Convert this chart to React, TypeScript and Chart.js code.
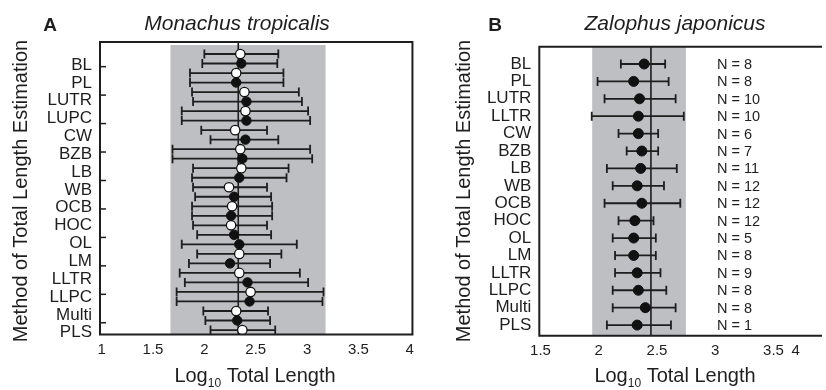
import React, { useEffect, useRef } from "react";
import { Chart, registerables } from "chart.js";

Chart.register(...registerables);

const FONT = "'Liberation Sans', Arial, Helvetica, sans-serif";
const INK = "#1e1e1e";
const BAND = "#bebfc3";

// ---------------- shared text ----------------
const yAxisTitle = "Method of Total Length Estimation";
const xTitleMain = "Log";
const xTitleSub = "10";
const xTitleRest = " Total Length";

// ---------------- Panel A: Monachus tropicalis ----------------
const aLetter = "A";
const aTitle = "Monachus tropicalis";
const aCategories = ["BL", "PL", "LUTR", "LUPC", "CW", "BZB", "LB", "WB", "OCB", "HOC", "OL", "LM", "LLTR", "LLPC", "Multi", "PLS"];
// 30 estimate rows, top to bottom: open or filled marker
const aRowKind = [
  "open", "filled", "open", "filled", "open", "filled", "open", "filled", "open", "filled",
  "open", "filled", "open", "filled", "open", "filled", "open", "filled", "open", "filled",
  "filled", "open", "filled", "open", "filled", "open", "filled", "open", "filled", "open",
];
const aMean = [2.35, 2.36, 2.31, 2.31, 2.39, 2.41, 2.40, 2.41, 2.30, 2.40, 2.35, 2.37, 2.36, 2.34, 2.24, 2.29, 2.27, 2.26, 2.26, 2.29, 2.34, 2.34, 2.25, 2.34, 2.42, 2.45, 2.44, 2.31, 2.32, 2.37];
const aLow = [2.00, 1.98, 1.86, 1.86, 1.88, 1.89, 1.78, 1.78, 1.97, 2.06, 1.69, 1.69, 1.89, 1.88, 1.89, 1.91, 1.88, 1.88, 1.89, 1.93, 1.78, 1.93, 1.85, 1.76, 1.81, 1.73, 1.73, 1.99, 2.01, 2.06];
const aHigh = [2.72, 2.71, 2.77, 2.77, 2.92, 2.95, 3.01, 3.03, 2.61, 2.72, 3.03, 3.05, 2.82, 2.80, 2.61, 2.65, 2.66, 2.66, 2.61, 2.65, 2.90, 2.75, 2.64, 2.93, 3.01, 3.16, 3.15, 2.62, 2.64, 2.69];
const aXTicks = [1, 1.5, 2, 2.5, 3, 3.5, 4];
const aXTickLabels = ["1", "1.5", "2", "2.5", "3", "3.5", "4"];
const aBand = [1.67, 3.18];
const aReference = 2.33;

// ---------------- Panel B: Zalophus japonicus ----------------
const bLetter = "B";
const bTitle = "Zalophus japonicus";
const bCategories = ["BL", "PL", "LUTR", "LLTR", "CW", "BZB", "LB", "WB", "OCB", "HOC", "OL", "LM", "LLTR", "LLPC", "Multi", "PLS"];
const bMean = [2.39, 2.30, 2.35, 2.34, 2.34, 2.37, 2.36, 2.33, 2.37, 2.31, 2.30, 2.30, 2.33, 2.34, 2.40, 2.33];
const bLow = [2.19, 1.99, 2.05, 1.94, 2.17, 2.24, 2.07, 2.12, 2.05, 2.17, 2.12, 2.14, 2.14, 2.12, 2.12, 2.07];
const bHigh = [2.57, 2.60, 2.66, 2.73, 2.51, 2.51, 2.67, 2.56, 2.70, 2.47, 2.49, 2.49, 2.53, 2.58, 2.66, 2.62];
const bN = [8, 8, 10, 10, 6, 7, 11, 12, 12, 12, 5, 8, 9, 8, 8, 1];
const bXTicks = [1.5, 2, 2.5, 3, 3.5, 3.69];
const bXTickLabels = ["1.5", "2", "2.5", "3", "3.5", "4"];
const bBand = [1.944, 2.748];
const bReference = 2.448;
const bNLabelX = 3.015;

type Bar = { row: number; mean: number; lo: number; hi: number };

type Spec = {
  letter: string;
  letterX: number;
  title: string;
  titleX: number;
  yTitleX: number;
  xTitleX: number;
  band: number[];
  bandInset: number;
  ref: number;
  bars: Bar[];
  capHalf: number;
  fullBox: boolean;
  innerTicks: number[];
  nLabels: { row: number; text: string }[];
  nX: number;
};

function makePlugin(spec: Spec) {
  return {
    id: "panelDecor",
    beforeDatasetsDraw(chart: any) {
      const { ctx, chartArea: ca } = chart;
      const x = chart.scales.x;
      const y = chart.scales.y;
      ctx.save();
      const b0 = x.getPixelForValue(spec.band[0]);
      const b1 = x.getPixelForValue(spec.band[1]);
      ctx.fillStyle = BAND;
      ctx.fillRect(b0, ca.top + spec.bandInset, b1 - b0, ca.bottom - ca.top - spec.bandInset);
      ctx.strokeStyle = INK;
      ctx.lineWidth = 1.6;
      const rx = x.getPixelForValue(spec.ref);
      ctx.beginPath();
      ctx.moveTo(rx, ca.top);
      ctx.lineTo(rx, ca.bottom);
      ctx.stroke();
      ctx.lineWidth = 1.8;
      spec.bars.forEach((b) => {
        const py = y.getPixelForValue(b.row);
        const p0 = x.getPixelForValue(b.lo);
        const p1 = x.getPixelForValue(b.hi);
        ctx.beginPath();
        ctx.moveTo(p0, py);
        ctx.lineTo(p1, py);
        ctx.moveTo(p0, py - spec.capHalf);
        ctx.lineTo(p0, py + spec.capHalf);
        ctx.moveTo(p1, py - spec.capHalf);
        ctx.lineTo(p1, py + spec.capHalf);
        ctx.stroke();
      });
      ctx.restore();
    },
    afterDraw(chart: any) {
      const { ctx, chartArea: ca } = chart;
      const x = chart.scales.x;
      const y = chart.scales.y;
      ctx.save();
      ctx.strokeStyle = INK;
      ctx.lineWidth = 2;
      ctx.beginPath();
      if (spec.fullBox) {
        ctx.rect(ca.left, ca.top, ca.right - ca.left, ca.bottom - ca.top);
      } else {
        ctx.moveTo(ca.right + 2, ca.top);
        ctx.lineTo(ca.left, ca.top);
        ctx.lineTo(ca.left, ca.bottom);
        ctx.lineTo(ca.right + 2, ca.bottom);
      }
      ctx.stroke();
      // inward tick marks on the y axis
      ctx.lineWidth = 1.5;
      spec.innerTicks.forEach((v) => {
        const py = y.getPixelForValue(v);
        ctx.beginPath();
        ctx.moveTo(ca.left, py);
        ctx.lineTo(ca.left + 6, py);
        ctx.stroke();
      });
      ctx.fillStyle = INK;
      // N labels
      ctx.font = `14.5px ${FONT}`;
      ctx.textAlign = "left";
      ctx.textBaseline = "middle";
      spec.nLabels.forEach((n) => {
        ctx.fillText(n.text, x.getPixelForValue(spec.nX), y.getPixelForValue(n.row) + 1);
      });
      // panel letter and title
      ctx.textBaseline = "alphabetic";
      ctx.textAlign = "center";
      ctx.font = `bold 19px ${FONT}`;
      ctx.fillText(spec.letter, spec.letterX, 31);
      ctx.font = `italic 21px ${FONT}`;
      ctx.fillText(spec.title, spec.titleX, 30);
      // y axis title
      ctx.save();
      ctx.translate(spec.yTitleX, 191);
      ctx.rotate(-Math.PI / 2);
      ctx.font = `20px ${FONT}`;
      ctx.textBaseline = "middle";
      ctx.fillText(yAxisTitle, 0, 0);
      ctx.restore();
      // x axis title with subscript
      const big = `20px ${FONT}`;
      const small = `12px ${FONT}`;
      ctx.font = big;
      const w1 = ctx.measureText(xTitleMain).width;
      const w3 = ctx.measureText(xTitleRest).width;
      ctx.font = small;
      const w2 = ctx.measureText(xTitleSub).width;
      let sx = spec.xTitleX - (w1 + w2 + w3) / 2;
      ctx.textAlign = "left";
      ctx.font = big;
      ctx.fillText(xTitleMain, sx, 382);
      sx += w1;
      ctx.font = small;
      ctx.fillText(xTitleSub, sx, 387);
      sx += w2;
      ctx.font = big;
      ctx.fillText(xTitleRest, sx, 382);
      ctx.restore();
    },
  };
}

function makeConfig(opts: {
  xMin: number; xMax: number; xTicks: number[]; xLabels: string[];
  yMin: number; yMax: number; catPos: (i: number) => number; categories: string[];
  yWidth: number; xHeight: number; padTop: number; padRight: number;
  datasets: any[]; plugin: any;
}) {
  return {
    type: "scatter",
    data: { datasets: opts.datasets },
    options: {
      animation: false,
      responsive: false,
      maintainAspectRatio: false,
      layout: { padding: { top: opts.padTop, right: opts.padRight, left: 0, bottom: 0 } },
      plugins: { legend: { display: false }, tooltip: { enabled: false }, title: { display: false } },
      scales: {
        x: {
          type: "linear",
          position: "bottom",
          min: opts.xMin,
          max: opts.xMax,
          afterBuildTicks: (s: any) => {
            s.ticks = opts.xTicks.map((v) => ({ value: v }));
          },
          afterFit: (s: any) => {
            s.height = opts.xHeight;
          },
          ticks: {
            autoSkip: false,
            maxRotation: 0,
            padding: 6,
            color: INK,
            font: { family: FONT, size: 15 },
            callback: (_v: any, i: number) => opts.xLabels[i],
          },
          grid: { display: false, drawTicks: false },
          border: { display: false },
        },
        y: {
          type: "linear",
          reverse: true,
          min: opts.yMin,
          max: opts.yMax,
          afterBuildTicks: (s: any) => {
            s.ticks = opts.categories.map((_c, i) => ({ value: opts.catPos(i) }));
          },
          afterFit: (s: any) => {
            s.width = opts.yWidth;
          },
          ticks: {
            autoSkip: false,
            padding: 8,
            color: INK,
            font: { family: FONT, size: 17 },
            callback: (_v: any, i: number) => opts.categories[i],
          },
          grid: { display: false, drawTicks: false },
          border: { display: false },
        },
      },
    },
    plugins: [opts.plugin],
  };
}

function configA() {
  const rows = aMean.map((m, i) => ({ row: i, mean: m, lo: aLow[i], hi: aHigh[i] }));
  const openPts = rows.filter((r) => aRowKind[r.row] === "open").map((r) => ({ x: r.mean, y: r.row }));
  const filledPts = rows.filter((r) => aRowKind[r.row] === "filled").map((r) => ({ x: r.mean, y: r.row }));
  const plugin = makePlugin({
    letter: aLetter, letterX: 50, title: aTitle, titleX: 237, yTitleX: 21, xTitleX: 255,
    band: aBand, bandInset: 3, ref: aReference, bars: rows, capHalf: 4.5, fullBox: true,
    innerTicks: Array.from({ length: 10 }, (_, k) => 1.33 + 2.99 * k),
    nLabels: [], nX: 0,
  });
  return makeConfig({
    xMin: 0.984, xMax: 4.026, xTicks: aXTicks, xLabels: aXTickLabels,
    yMin: -1.26, yMax: 29.47, catPos: (i) => 1.16 + 1.875 * i, categories: aCategories,
    yWidth: 100, xHeight: 55.5, padTop: 42, padRight: 5,
    datasets: [
      { data: filledPts, pointRadius: 4.7, pointBackgroundColor: "#111", pointBorderColor: "#111", pointBorderWidth: 1 },
      { data: openPts, pointRadius: 4.7, pointBackgroundColor: "#fff", pointBorderColor: "#111", pointBorderWidth: 1.3 },
    ],
    plugin,
  });
}

function configB() {
  const rows = bMean.map((m, i) => ({ row: i, mean: m, lo: bLow[i], hi: bHigh[i] }));
  const pts = rows.map((r) => ({ x: r.mean, y: r.row }));
  const plugin = makePlugin({
    letter: bLetter, letterX: 75, title: bTitle, titleX: 255, yTitleX: 44, xTitleX: 255,
    band: bBand, bandInset: 0, ref: bReference, bars: rows, capHalf: 4.5, fullBox: false,
    innerTicks: [],
    nLabels: bN.map((n, i) => ({ row: i, text: `N = ${n}` })), nX: bNLabelX,
  });
  return makeConfig({
    xMin: 1.49, xMax: 3.899, xTicks: bXTicks, xLabels: bXTickLabels,
    yMin: -0.994, yMax: 15.61, catPos: (i) => i, categories: bCategories,
    yWidth: 119.3, xHeight: 54.3, padTop: 46.7, padRight: 0,
    datasets: [
      { data: pts, pointRadius: 5, pointBackgroundColor: "#111", pointBorderColor: "#111", pointBorderWidth: 1 },
    ],
    plugin,
  });
}

function Panel({ make, left, width }: { make: () => any; left: number; width: number }) {
  const ref = useRef<HTMLCanvasElement | null>(null);
  useEffect(() => {
    const chart = new Chart(ref.current as HTMLCanvasElement, make());
    return () => chart.destroy();
  }, []);
  return (
    <canvas
      ref={ref}
      width={width}
      height={390}
      style={{ position: "absolute", left, top: 0, width, height: 390, display: "block" }}
    />
  );
}

export default function App() {
  return (
    <div
      style={{
        position: "fixed",
        left: 0,
        top: 0,
        width: 826,
        height: 390,
        overflow: "hidden",
        background: "#fff",
      }}
    >
      <Panel make={configA} left={0} width={420} />
      <Panel make={configB} left={420} width={406} />
    </div>
  );
}
